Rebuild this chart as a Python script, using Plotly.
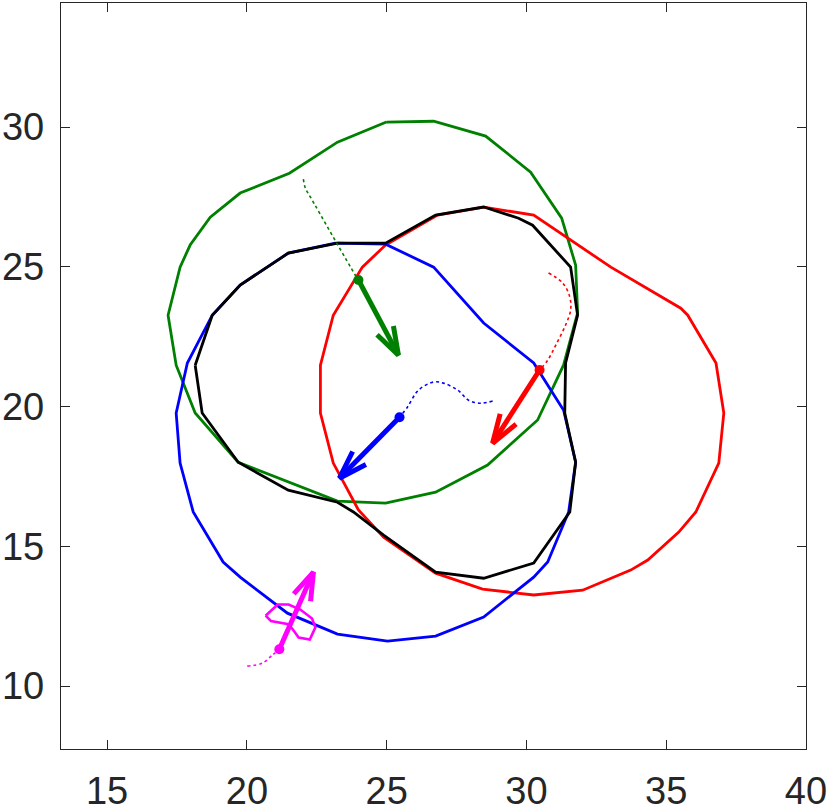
import plotly.graph_objects as go

# ---- closed orbit polygons (data units) ----
green_x = [24.99, 26.68, 28.54, 30.15, 31.26, 31.76, 31.83, 31.33, 30.40, 28.61, 26.75, 24.96,
           23.24, 19.69, 18.15, 17.47, 17.18, 17.61, 17.97, 18.69, 19.76, 21.52, 23.24]
green_y = [30.18, 30.21, 29.68, 28.39, 26.74, 25.06, 23.35, 21.49, 19.52, 17.91, 16.94, 16.55,
           16.62, 18.01, 19.77, 21.48, 23.27, 24.99, 25.78, 26.78, 27.64, 28.35, 29.46]

red_x = [28.47, 30.26, 33.02, 35.52, 35.77, 36.78, 37.06, 36.88, 36.06, 35.45, 34.34, 33.73,
         32.01, 30.26, 28.43, 26.75, 24.89, 23.99, 23.09, 22.63, 22.63, 23.09, 24.13, 24.96, 26.82]
red_y = [27.14, 26.85, 24.99, 23.52, 23.27, 21.56, 19.77, 17.98, 16.23, 15.51, 14.51, 14.15,
         13.43, 13.26, 13.47, 14.04, 15.33, 16.30, 17.98, 19.77, 21.48, 23.27, 24.99, 25.78, 26.85]

blue_x = [23.17, 24.96, 26.68, 28.47, 30.26, 31.33, 31.76, 31.51, 30.76, 30.26, 28.47, 26.75,
          25.03, 23.24, 21.45, 19.76, 19.15, 18.08, 17.61, 17.47, 17.87, 18.76, 19.76, 21.48]
blue_y = [25.85, 25.81, 24.99, 22.99, 21.56, 19.87, 18.01, 16.23, 14.44, 13.90, 12.47, 11.79,
          11.61, 11.86, 12.61, 13.90, 14.44, 16.23, 17.98, 19.77, 21.56, 23.27, 24.35, 25.49]

black_x = [18.15, 18.40, 19.69, 21.48, 23.24, 23.81, 24.89, 26.21, 26.75, 28.47, 30.26, 31.55,
           31.76, 31.37, 31.40, 31.83, 31.58, 30.22, 29.72, 28.47, 26.75, 24.96, 23.24, 21.48,
           19.76, 18.76]
black_y = [21.48, 19.77, 18.01, 17.01, 16.58, 16.23, 15.40, 14.44, 14.08, 13.86, 14.40, 16.23,
           18.01, 19.77, 21.56, 23.27, 24.99, 26.49, 26.74, 27.14, 26.85, 25.85, 25.85, 25.49,
           24.35, 23.27]

# ---- dotted trails ending at the current positions ----
green_trail_x = [22.02, 22.09, 22.27, 23.88, 23.99]
green_trail_y = [28.14, 27.82, 27.50, 24.70, 24.53]
red_trail_x = [30.79, 31.30, 31.55, 31.58, 31.40, 31.05, 30.76, 30.47]
red_trail_y = [24.78, 24.42, 23.92, 23.45, 22.92, 22.20, 21.66, 21.31]
blue_trail_x = [28.79, 28.36, 27.93, 27.54, 27.03, 26.68, 26.14, 25.74, 25.46]
blue_trail_y = [20.20, 20.12, 20.23, 20.59, 20.84, 20.88, 20.59, 19.98, 19.62]
mag_trail_x = [20.01, 20.55, 20.91, 21.16]
mag_trail_y = [10.72, 10.82, 11.11, 11.32]

# ---- current positions and velocity vectors ----
body_names = ["green", "red", "blue", "magenta"]
pos_x = [23.99, 30.47, 25.46, 21.16]
pos_y = [24.53, 21.31, 19.62, 11.32]
vel_u = [1.43, -1.68, -2.15, 1.22]
vel_v = [-2.69, -2.62, -2.18, 2.76]

# ---- small magenta loop ----
loop_x = [20.67, 21.10, 21.49, 21.91, 22.33, 22.45, 22.25, 21.85, 21.62, 21.44, 20.86]
loop_y = [12.52, 12.92, 12.92, 12.74, 12.42, 12.10, 11.67, 11.74, 12.06, 12.22, 12.33]

GREEN = "rgb(0,128,0)"
RED = "rgb(255,0,0)"
BLUE = "rgb(0,0,255)"
BLACK = "rgb(0,0,0)"
MAGENTA = "rgb(255,0,255)"
colors = [GREEN, RED, BLUE, MAGENTA]

fig = go.Figure()


def closed(xs, ys):
    return list(xs) + [xs[0]], list(ys) + [ys[0]]


for xs, ys, c in [(green_x, green_y, GREEN), (red_x, red_y, RED),
                  (blue_x, blue_y, BLUE), (black_x, black_y, BLACK)]:
    cx, cy = closed(xs, ys)
    fig.add_trace(go.Scatter(x=cx, y=cy, mode="lines",
                             line=dict(color=c, width=2.8), hoverinfo="skip"))

for xs, ys, c in [(green_trail_x, green_trail_y, GREEN), (red_trail_x, red_trail_y, RED),
                  (blue_trail_x, blue_trail_y, BLUE), (mag_trail_x, mag_trail_y, MAGENTA)]:
    fig.add_trace(go.Scatter(x=xs, y=ys, mode="lines",
                             line=dict(color=c, width=1.6, dash="dot", shape="spline"),
                             hoverinfo="skip"))

lx, ly = closed(loop_x, loop_y)
fig.add_trace(go.Scatter(x=lx, y=ly, mode="lines",
                         line=dict(color=MAGENTA, width=2.6), hoverinfo="skip"))

alpha, beta = 0.33, 0.33
for x0, y0, u, v, c in zip(pos_x, pos_y, vel_u, vel_v, colors):
    x1, y1 = x0 + u, y0 + v
    fig.add_trace(go.Scatter(x=[x0, x1], y=[y0, y1], mode="lines",
                             line=dict(color=c, width=5), hoverinfo="skip"))
    hx = [x1 - alpha * (u + beta * v), x1, x1 - alpha * (u - beta * v)]
    hy = [y1 - alpha * (v - beta * u), y1, y1 - alpha * (v + beta * u)]
    fig.add_trace(go.Scatter(x=hx, y=hy, mode="lines",
                             line=dict(color=c, width=5), hoverinfo="skip"))
    fig.add_trace(go.Scatter(x=[x0], y=[y0], mode="markers",
                             marker=dict(color=c, size=10), hoverinfo="skip"))

axis_common = dict(
    showgrid=False, zeroline=False, showline=True, mirror="ticks", automargin=False,
    linecolor="rgb(38,38,38)", linewidth=1.3,
    ticks="inside", ticklen=9, tickwidth=1.3, tickcolor="rgb(38,38,38)",
    tickfont=dict(family="Liberation Sans, Arial, sans-serif", size=38, color="rgb(38,38,38)"),
)

fig.update_layout(
    width=831, height=812,
    margin=dict(l=61, r=25, t=3, b=63),
    paper_bgcolor="white", plot_bgcolor="white",
    showlegend=False,
    xaxis=dict(range=[13.35, 40.0], tickvals=[15, 20, 25, 30, 35, 40],
               ticklabelstandoff=8, **axis_common),
    yaxis=dict(range=[7.75, 34.44], tickvals=[10, 15, 20, 25, 30],
               ticklabelstandoff=8, **axis_common),
)

fig.write_html("out.html",
               config={"displayModeBar": False},
               post_script="document.body.style.margin='0';document.body.style.overflow='hidden';")
